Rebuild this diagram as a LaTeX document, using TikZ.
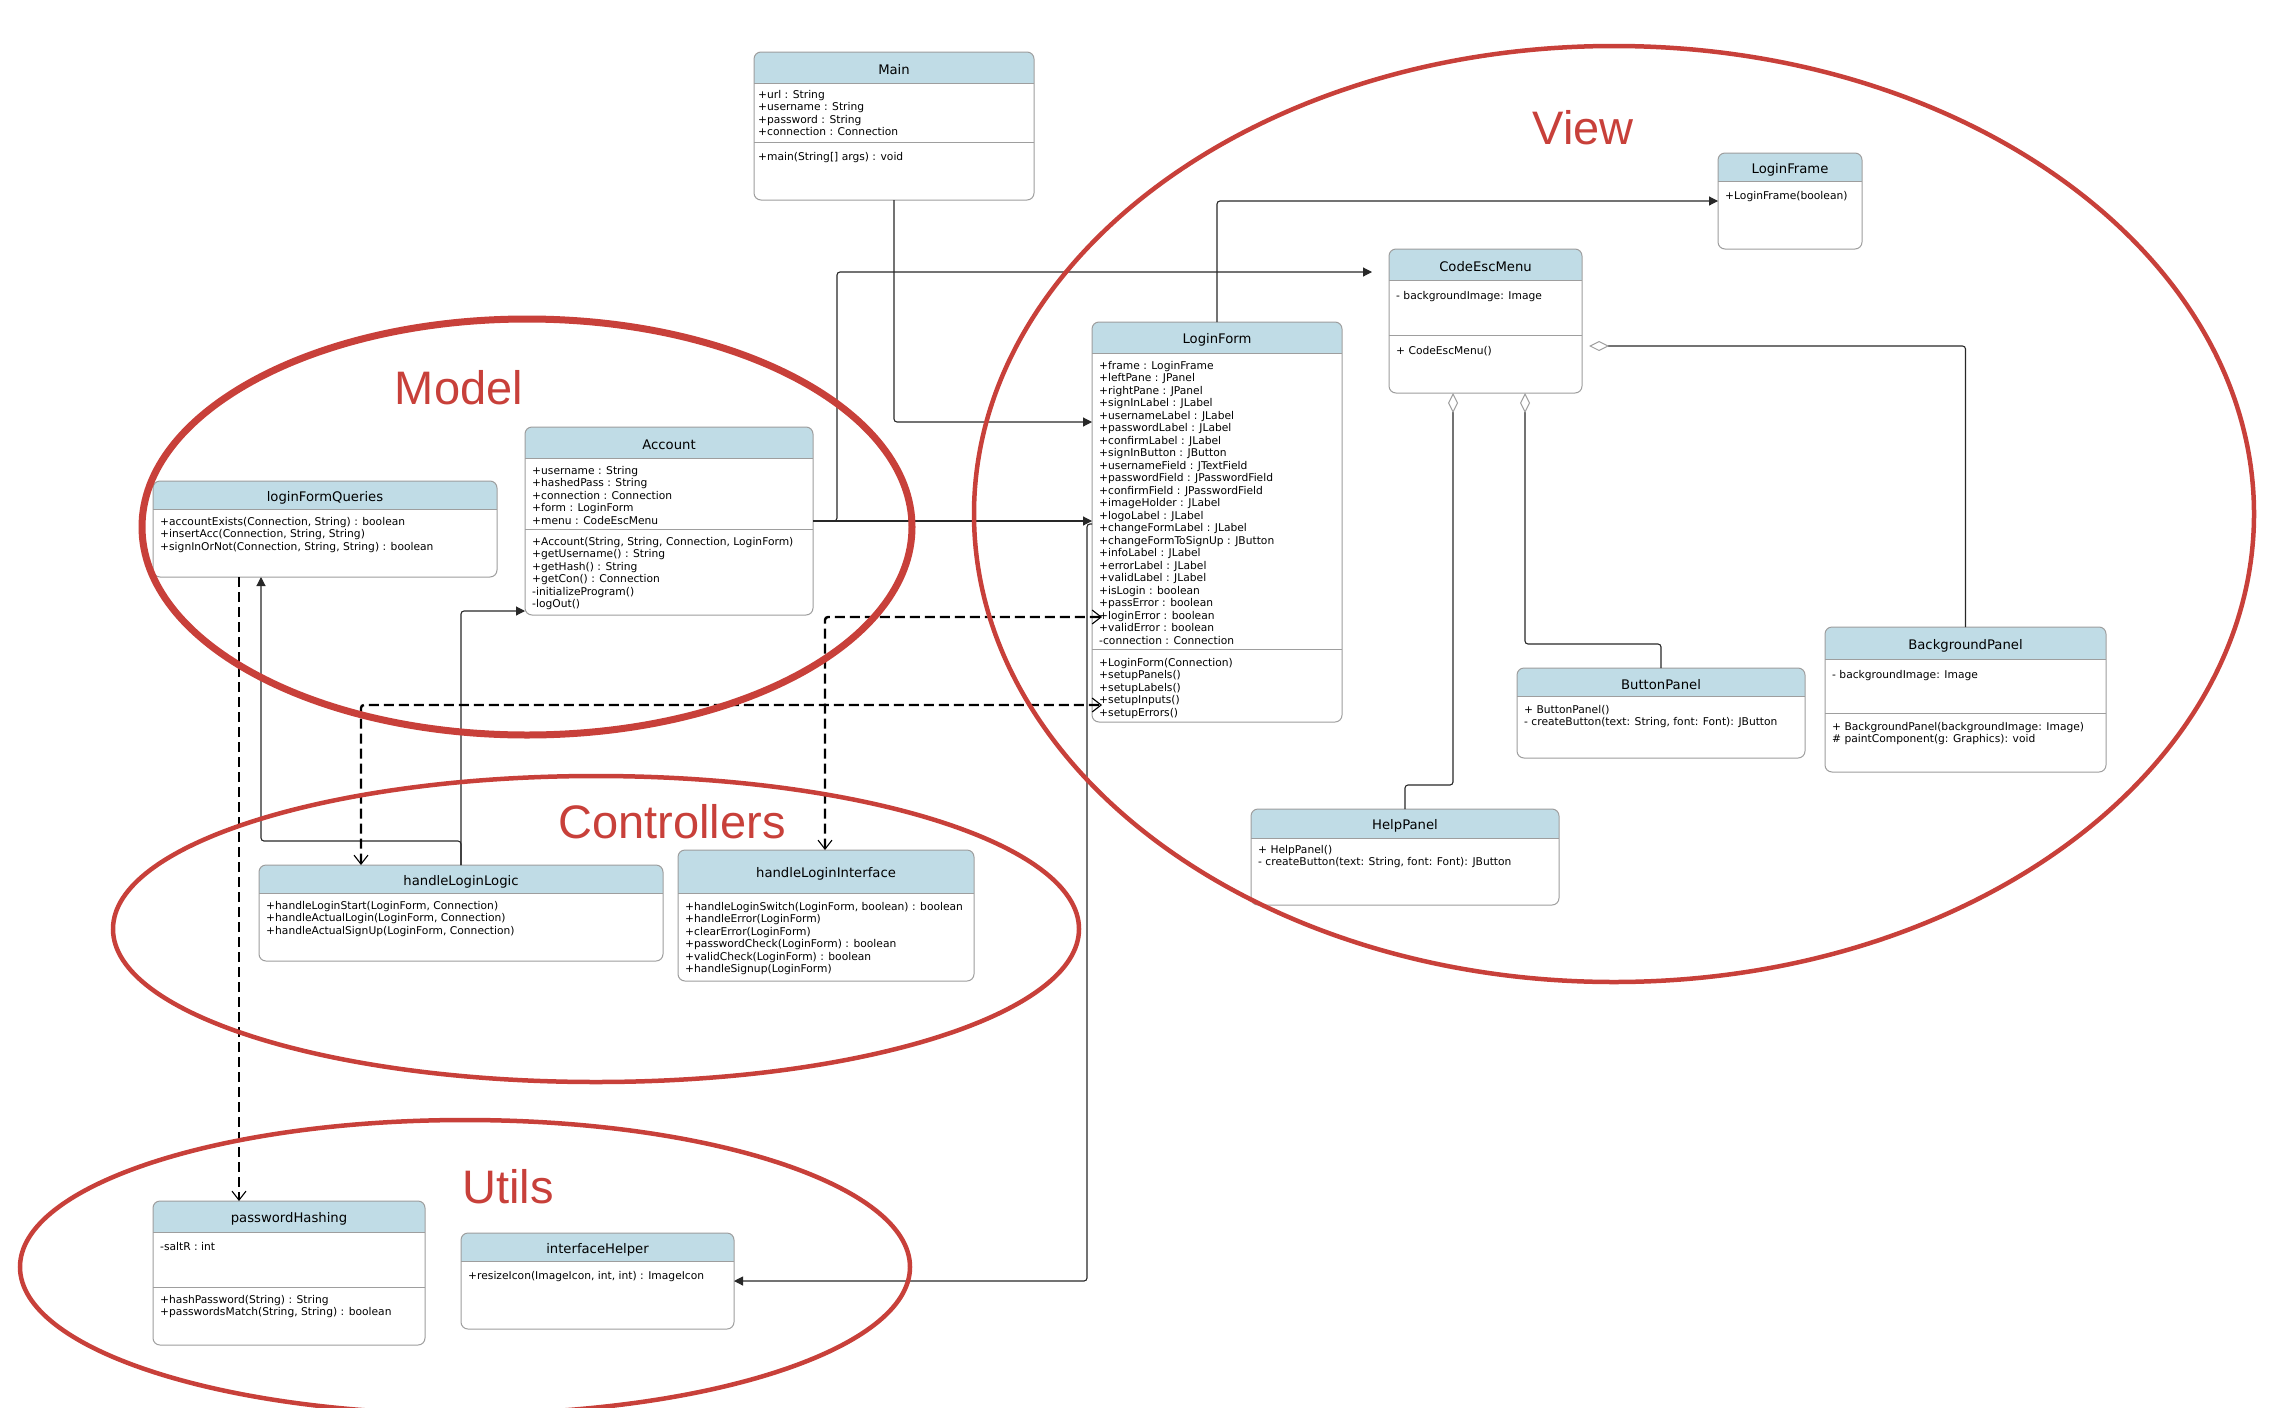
\documentclass[tikz,border=0pt]{standalone}
\usepackage{fontspec}
\setmainfont{DejaVu Sans}
\newfontfamily\grpfont{Liberation Sans}
\usetikzlibrary{arrows.meta}
\definecolor{hdrblue}{RGB}{192,220,230}
\definecolor{boxgray}{RGB}{158,158,158}
\definecolor{grpred}{RGB}{200,64,58}
\definecolor{wire}{RGB}{40,40,40}
\tikzset{
  classbox/.style = {draw=boxgray, line width=1pt, rounded corners=7pt, inner sep=0pt, outer sep=0pt},
  sepline/.style  = {boxgray, line width=1pt},
  ctitle/.style   = {font=\fontsize{13.2}{15}\selectfont, inner sep=0pt, yshift=-2.5pt},
  members/.style  = {font=\fontsize{10.7}{12.5}\selectfont, align=left, anchor=north west,
                     inner sep=0pt, yshift=-3pt, execute at begin node=\rule{0pt}{10pt}},
  assoc/.style    = {-{Triangle[length=9pt,width=9pt]}, line width=1.1pt, wire, rounded corners=3pt},
  aggr/.style     = {{Diamond[length=20pt,width=10pt,fill=white,color=boxgray,line width'=1pt]}-,
                     line width=1.1pt, wire, rounded corners=3pt},
  barb/.tip       = {Straight Barb[length=9pt,width=14pt,line width'=1.1pt]},
  depend/.style   = {-barb, line width=2.4pt, dash pattern=on 10pt off 5pt, black, rounded corners=3pt},
  grouping/.style = {draw=grpred, line width=4.5pt},
  grplbl/.style   = {text=grpred, font=\grpfont\fontsize{47}{50}\selectfont, anchor=base, inner sep=0pt},
}
\newcommand{\umlclass}[7]{%
  \pgfmathsetmacro{\clsw}{#4-#2}
  \pgfmathsetmacro{\clsh}{#5-#3}
  \begin{scope}
    \clip[rounded corners=7pt] (#2,#3) rectangle (#4,#5);
    \fill[hdrblue] (#2,#3) rectangle (#4,#6);
  \end{scope}
  \draw[sepline] (#2,#6) -- (#4,#6);
  \node[classbox, minimum width=\clsw pt, minimum height=\clsh pt] (#1) at ({(#2+#4)/2},{(#3+#5)/2}) {};
  \node[ctitle] (#1-title) at ({(#2+#4)/2},{(#3+#6)/2}) {#7};
}

\begin{document}
\begin{tikzpicture}[x=1pt, y=-1pt]
  \useasboundingbox (0,0) rectangle (2270,1408);
  \fill[white] (0,0) rectangle (2270,1408);

  \umlclass{Main}{754}{52}{1034}{200}{83}{Main}
  \node[members] (Main-attr) at (758,87) {+url : String\\+username : String\\+password : String\\+connection : Connection};
  \draw[sepline] (754,142) -- (1034,142);
  \node[members] (Main-ops) at (758,147) {+main(String[] args) : void};

  \umlclass{LoginFrame}{1718}{153}{1862}{249}{181}{LoginFrame}
  \node[members] (LoginFrame-ops) at (1725,186) {+LoginFrame(boolean)};

  \umlclass{CodeEscMenu}{1389}{249}{1582}{393}{280}{CodeEscMenu}
  \node[members] (CodeEscMenu-attr) at (1396,286) {- backgroundImage: Image};
  \draw[sepline] (1389,335) -- (1582,335);
  \node[members] (CodeEscMenu-ops) at (1396,341) {+ CodeEscMenu()};

  \umlclass{LoginForm}{1092}{322}{1342}{722}{353}{LoginForm}
  \node[members] (LoginForm-attr) at (1099,358) {+frame : LoginFrame\\+leftPane : JPanel\\+rightPane : JPanel\\
    +signInLabel : JLabel\\+usernameLabel : JLabel\\+passwordLabel : JLabel\\+confirmLabel : JLabel\\
    +signInButton : JButton\\+usernameField : JTextField\\+passwordField : JPasswordField\\
    +confirmField : JPasswordField\\+imageHolder : JLabel\\+logoLabel : JLabel\\+changeFormLabel : JLabel\\
    +changeFormToSignUp : JButton\\+infoLabel : JLabel\\+errorLabel : JLabel\\+validLabel : JLabel\\
    +isLogin : boolean\\+passError : boolean\\+loginError : boolean\\+validError : boolean\\-connection : Connection};
  \draw[sepline] (1092,649) -- (1342,649);
  \node[members] (LoginForm-ops) at (1099,655) {+LoginForm(Connection)\\+setupPanels()\\+setupLabels()\\+setupInputs()\\+setupErrors()};

  \umlclass{Account}{525}{427}{813}{615}{458}{Account}
  \node[members] (Account-attr) at (532,463) {+username : String\\+hashedPass : String\\+connection : Connection\\+form : LoginForm\\+menu : CodeEscMenu};
  \draw[sepline] (525,529) -- (813,529);
  \node[members] (Account-ops) at (532,534) {+Account(String, String, Connection, LoginForm)\\+getUsername() : String\\
    +getHash() : String\\+getCon() : Connection\\-initializeProgram()\\-logOut()};

  \umlclass{loginFormQueries}{153}{481}{497}{577}{509}{loginFormQueries}
  \node[members] (loginFormQueries-ops) at (160,514) {+accountExists(Connection, String) : boolean\\
    +insertAcc(Connection, String, String)\\+signInOrNot(Connection, String, String) : boolean};

  \umlclass{ButtonPanel}{1517}{668}{1805}{758}{696}{ButtonPanel}
  \node[members] (ButtonPanel-ops) at (1524,702) {+ ButtonPanel()\\- createButton(text: String, font: Font): JButton};

  \umlclass{BackgroundPanel}{1825}{627}{2106}{772}{659}{BackgroundPanel}
  \node[members] (BackgroundPanel-attr) at (1832,665) {- backgroundImage: Image};
  \draw[sepline] (1825,713) -- (2106,713);
  \node[members] (BackgroundPanel-ops) at (1832,719) {+ BackgroundPanel(backgroundImage: Image)\\\# paintComponent(g: Graphics): void};

  \umlclass{HelpPanel}{1251}{809}{1559}{905}{838}{HelpPanel}
  \node[members] (HelpPanel-ops) at (1258,842) {+ HelpPanel()\\- createButton(text: String, font: Font): JButton};

  \umlclass{handleLoginLogic}{259}{865}{663}{961}{893}{handleLoginLogic}
  \node[members] (handleLoginLogic-ops) at (266,898) {+handleLoginStart(LoginForm, Connection)\\
    +handleActualLogin(LoginForm, Connection)\\+handleActualSignUp(LoginForm, Connection)};

  \umlclass{handleLoginInterface}{678}{850}{974}{981}{893}{handleLoginInterface}
  \node[members] (handleLoginInterface-ops) at (685,899) {+handleLoginSwitch(LoginForm, boolean) : boolean\\
    +handleError(LoginForm)\\+clearError(LoginForm)\\+passwordCheck(LoginForm) : boolean\\
    +validCheck(LoginForm) : boolean\\+handleSignup(LoginForm)};

  \umlclass{passwordHashing}{153}{1201}{425}{1345}{1232}{passwordHashing}
  \node[members] (passwordHashing-attr) at (160,1237) {-saltR : int};
  \draw[sepline] (153,1287) -- (425,1287);
  \node[members] (passwordHashing-ops) at (160,1292) {+hashPassword(String) : String\\+passwordsMatch(String, String) : boolean};

  \umlclass{interfaceHelper}{461}{1233}{734}{1329}{1261}{interfaceHelper}
  \node[members] (interfaceHelper-ops) at (468,1266) {+resizeIcon(ImageIcon, int, int) : ImageIcon};

  \draw[assoc] (Main.south) |- ([yshift=-100pt]LoginForm.north west);
  \draw[assoc] (Account.east) -- ++(24,0) |- ([xshift=-17pt,yshift=-23pt]CodeEscMenu.north west);
  \draw[assoc] (Account.east) -- (Account.east -| LoginForm.west);
  \draw[assoc] ([yshift=-3pt]Account.east -| LoginForm.west) -- ++(-5,0) |- (interfaceHelper.east);
  \draw[assoc] (LoginForm.north) |- (LoginFrame.west);
  \draw[assoc] (handleLoginLogic.north) |- ([yshift=4pt]Account.south west);
  \draw[assoc] (handleLoginLogic.north) -- ++(0,-24) -| ([xshift=108pt]loginFormQueries.south west);

  \draw[aggr] ([xshift=136pt]CodeEscMenu.south west) |- ([yshift=24pt]ButtonPanel.north) -- (ButtonPanel.north);
  \draw[aggr] ([xshift=64pt]CodeEscMenu.south west) |- ([yshift=24pt]HelpPanel.north) -- (HelpPanel.north);
  \draw[aggr] ([xshift=7pt,yshift=-97pt]CodeEscMenu.north east) -| (BackgroundPanel.north);

  \draw[depend] ([xshift=86pt]loginFormQueries.south west) -- ([xshift=86pt]passwordHashing.north west);
  \draw[depend, barb-barb, shorten >=-10pt] ([xshift=102pt]handleLoginLogic.north west) |- ([yshift=17pt]LoginForm.south west);
  \draw[depend, barb-barb, shorten >=-10pt] ([xshift=147pt]handleLoginInterface.north west) |- ([yshift=-295pt]LoginForm.north west);

  \draw[grouping, line width=7pt] (527,527) ellipse [x radius=385, y radius=208];
  \draw[grouping] (1614,514) ellipse [x radius=640, y radius=468];
  \draw[grouping] (596,929) ellipse [x radius=483, y radius=153];
  \draw[grouping] (465,1267) ellipse [x radius=445, y radius=147];
  \node[grplbl] (modelLbl) at (459,404) {Model};
  \node[grplbl] (viewLbl) at (1583,144) {View};
  \node[grplbl] (ctrlLbl) at (672,838) {Controllers};
  \node[grplbl] (utilsLbl) at (508,1203) {Utils};
\end{tikzpicture}
\end{document}
